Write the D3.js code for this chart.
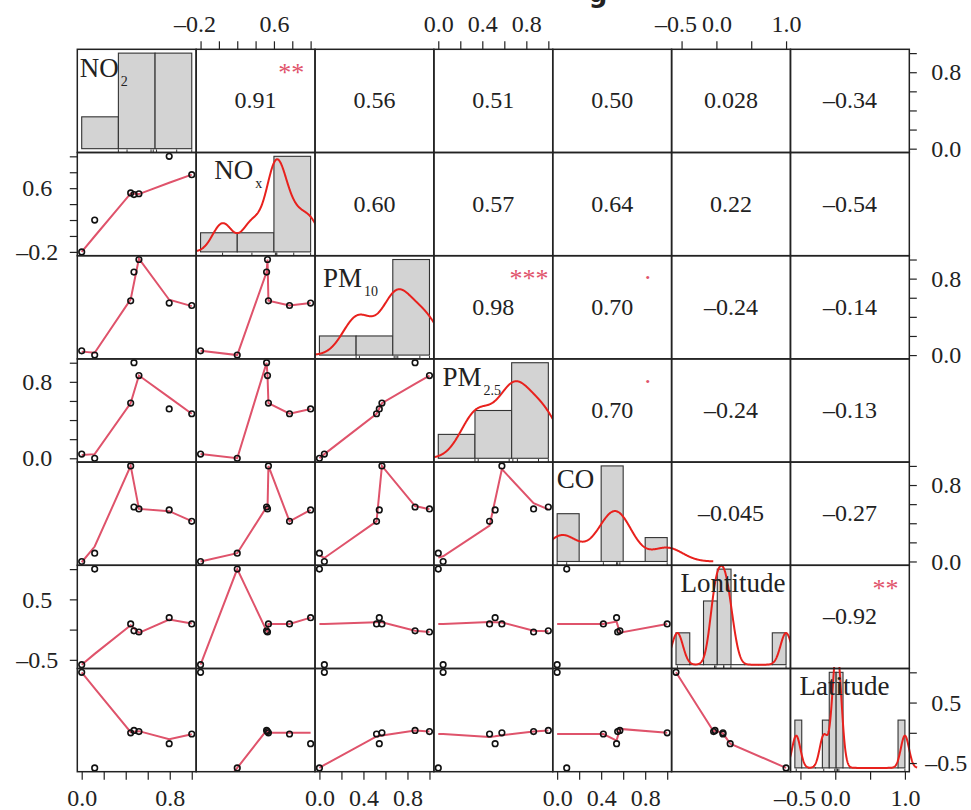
<!DOCTYPE html>
<html>
<head>
<meta charset="utf-8">
<script src="https://cdn.jsdelivr.net/npm/d3@7"></script>
<style>
  body { margin: 0; background: #fff; }
  svg { display: block; font-family: "Liberation Serif", "Times New Roman", serif; }
</style>
</head>
<body>
<div id="chart"></div>
<script>
// seven observations, same order in every series
var NO2       = [0.000, 0.118, 0.445, 0.475, 0.520, 0.795, 1.000];
var NOx       = [-0.20, 0.200, 0.540, 0.520, 0.530, 1.000, 0.770];
var PM10      = [0.045, 0.000, 0.568, 0.869, 1.000, 0.544, 0.519];
var PM25      = [0.044, 0.000, 0.578, 1.000, 0.866, 0.5165, 0.466];
var CO        = [0.000, 0.087, 1.000, 0.570, 0.550, 0.540, 0.420];
var Lontitude = [-0.58, 1.000, 0.094, -0.02, -0.04, 0.198, 0.094];
var Latitude  = [1.000, -0.58, 0.000, 0.040, 0.020, -0.18, -0.02];

var varNames  = ["NO2", "NOx", "PM10", "PM2.5", "CO", "Lontitude", "Latitude"];
var labelMain = ["NO", "NO", "PM", "PM", "CO", "Lontitude", "Latitude"];
var labelSub  = ["2", "x", "10", "2.5", "", "", ""];

// histogram breaks (right-closed bins)
var histBreaks = [
  [-0.5, 0, 0.5, 1],
  [-0.5, 0, 0.5, 1],
  [-0.5, 0, 0.5, 1],
  [-0.5, 0, 0.5, 1],
  [0, 0.2, 0.4, 0.6, 0.8, 1],
  [-0.6, -0.4, -0.2, 0, 0.2, 0.4, 0.6, 0.8, 1],
  [-0.6, -0.5, -0.4, -0.3, -0.2, -0.1, 0, 0.1, 0.2, 0.3, 0.4, 0.5, 0.6, 0.7, 0.8, 0.9, 1]
];
var showDensity = [false, true, true, true, true, true, true];

// axis ticks and the labels that are printed
var axisTicks = [
  [0, 0.2, 0.4, 0.6, 0.8, 1],
  [-0.2, 0, 0.2, 0.4, 0.6, 0.8, 1],
  [0, 0.2, 0.4, 0.6, 0.8, 1],
  [0, 0.2, 0.4, 0.6, 0.8, 1],
  [0, 0.2, 0.4, 0.6, 0.8, 1],
  [-0.5, 0, 0.5, 1],
  [-0.5, 0, 0.5, 1]
];
var xTickLabels = [[0, 0.8], [-0.2, 0.6], [0, 0.4, 0.8], [0, 0.4, 0.8], [0, 0.4, 0.8], [-0.5, 0, 1], [-0.5, 0, 1]];
var yTickLabels = [[0, 0.8], [-0.2, 0.6], [0, 0.8], [0, 0.8], [0, 0.8], [-0.5, 0.5], [-0.5, 0.5]];

// correlations above the diagonal, row by row
var corValues = [
  [0.91, 0.56, 0.51, 0.50, 0.028, -0.34],
  [0.60, 0.57, 0.64, 0.22, -0.54],
  [0.98, 0.70, -0.24, -0.14],
  [0.70, -0.24, -0.13],
  [-0.045, -0.27],
  [-0.92]
];
var corStars = [
  ["**", "", "", "", "", ""],
  ["", "", "", "", ""],
  ["***", ".", "", ""],
  [".", "", ""],
  ["", ""],
  ["**"]
];

var series = [NO2, NOx, PM10, PM25, CO, Lontitude, Latitude];
var nv = series.length;

var width = 971, height = 810;
var plotLeft = 77.3, plotTop = 49.3, cellW = 118.86, cellH = 103.2;

// label nudges inside the diagonal cells
var labelDx = [2.5, 18, 8, 8.5, 4, 9, 9];
var labelDy = [27.5, 26, 31.5, 27, 26, 26.2, 26.3];

var svg = d3.select("#chart").append("svg")
    .attr("width", width)
    .attr("height", height);

svg.append("rect").attr("width", width).attr("height", height).attr("fill", "#fff");

var defs = svg.append("defs");

function padded(ext) {
  var d = ext[1] - ext[0];
  return [ext[0] - 0.04 * d, ext[1] + 0.04 * d];
}

function fmtTick(v) {
  return v.toFixed(1).replace("-", "\u2013");
}

function fmtCor(r) {
  var s = Math.abs(r) < 0.1 ? r.toPrecision(2) : r.toFixed(2);
  return s.replace("-", "\u2013");
}

var xScales = series.map(function(v, j) {
  return d3.scaleLinear().domain(padded(d3.extent(v)))
      .range([plotLeft + j * cellW, plotLeft + (j + 1) * cellW]);
});
var yScales = series.map(function(v, i) {
  return d3.scaleLinear().domain(padded(d3.extent(v)))
      .range([plotTop + (i + 1) * cellH, plotTop + i * cellH]);
});

// port of R's clowess
function lowess(xIn, yIn, f, nsteps) {
  var n = xIn.length;
  var order = d3.range(n).sort(function(a, b) { return xIn[a] - xIn[b]; });
  var x = order.map(function(k) { return xIn[k]; });
  var y = order.map(function(k) { return yIn[k]; });
  var ys = new Array(n).fill(0), rw = new Array(n).fill(1), res = new Array(n).fill(0);
  var range = x[n - 1] - x[0];
  var delta = 0.01 * range;
  var ns = Math.max(2, Math.min(n, Math.floor(f * n + 1e-7)));

  function lowest(xs, nleft, nright, userw) {
    var h = Math.max(xs - x[nleft], x[nright] - xs);
    var h9 = 0.999 * h, h1 = 0.001 * h;
    var w = new Array(n).fill(0);
    var a = 0, j = nleft;
    while (j < n) {
      var r = Math.abs(x[j] - xs);
      if (r <= h9) {
        w[j] = r <= h1 ? 1 : Math.pow(1 - Math.pow(r / h, 3), 3);
        if (userw) w[j] *= rw[j];
        a += w[j];
      } else if (x[j] > xs) break;
      j++;
    }
    var nrt = j - 1;
    if (a <= 0) return null;
    for (j = nleft; j <= nrt; j++) w[j] /= a;
    if (h > 0) {
      a = 0;
      for (j = nleft; j <= nrt; j++) a += w[j] * x[j];
      var b = xs - a, c = 0;
      for (j = nleft; j <= nrt; j++) c += w[j] * (x[j] - a) * (x[j] - a);
      if (Math.sqrt(c) > 0.001 * range) {
        b /= c;
        for (j = nleft; j <= nrt; j++) w[j] *= (b * (x[j] - a) + 1);
      }
    }
    var s = 0;
    for (j = nleft; j <= nrt; j++) s += w[j] * y[j];
    return s;
  }

  for (var iter = 1; iter <= nsteps + 1; iter++) {
    var nleft = 0, nright = ns - 1, last = -1, i = 0;
    for (;;) {
      if (nright < n - 1) {
        var d1 = x[i] - x[nleft], d2 = x[nright + 1] - x[i];
        if (d1 > d2) { nleft++; nright++; continue; }
      }
      var fit = lowest(x[i], nleft, nright, iter > 1);
      ys[i] = fit === null ? y[i] : fit;
      if (last < i - 1) {
        var denom = x[i] - x[last];
        for (var j = last + 1; j < i; j++) {
          var alpha = (x[j] - x[last]) / denom;
          ys[j] = alpha * ys[i] + (1 - alpha) * ys[last];
        }
      }
      last = i;
      var cut = x[last] + delta;
      for (i = last + 1; i < n; i++) {
        if (x[i] > cut) break;
        if (x[i] === x[last]) { ys[i] = ys[last]; last = i; }
      }
      i = Math.max(last + 1, i - 1);
      if (last >= n - 1) break;
    }
    for (i = 0; i < n; i++) res[i] = y[i] - ys[i];
    if (iter > nsteps) break;
    var sc = d3.sum(res, Math.abs) / n;
    var cmad = 6 * d3.median(res.map(Math.abs));
    if (cmad < 1e-7 * sc) break;
    var c9 = 0.999 * cmad, c1 = 0.001 * cmad;
    for (i = 0; i < n; i++) {
      var r = Math.abs(res[i]);
      rw[i] = r <= c1 ? 1 : (r <= c9 ? Math.pow(1 - Math.pow(r / cmad, 2), 2) : 0);
    }
  }
  return x.map(function(v, k) { return [v, ys[k]]; });
}

function bwNrd0(v) {
  var s = d3.deviation(v);
  var sorted = v.slice().sort(d3.ascending);
  var iqr = d3.quantile(sorted, 0.75) - d3.quantile(sorted, 0.25);
  var lo = Math.min(s, iqr / 1.34);
  if (!lo) lo = s || 1;
  return 0.9 * lo * Math.pow(v.length, -0.2);
}

function kde(v) {
  var bw = bwNrd0(v), n = v.length;
  var lo = d3.min(v) - 3 * bw, hi = d3.max(v) + 3 * bw;
  return d3.range(512).map(function(k) {
    var x = lo + (hi - lo) * k / 511;
    var s = d3.sum(v, function(xi) {
      var z = (x - xi) / bw;
      return Math.exp(-0.5 * z * z);
    });
    return [x, s / (n * bw * Math.sqrt(2 * Math.PI))];
  });
}

function binCounts(v, br) {
  var counts = br.slice(1).map(function() { return 0; });
  v.forEach(function(x) {
    for (var k = 0; k < counts.length; k++) {
      var lowOk = k === 0 ? x >= br[0] - 1e-7 : x > br[k] + 1e-7;
      if (lowOk && x <= br[k + 1] + 1e-7) { counts[k]++; break; }
    }
  });
  return counts;
}

var panels = svg.append("g").attr("class", "panels");

function drawDiag(i) {
  var v = series[i], br = histBreaks[i], n = v.length;
  var x0 = plotLeft + i * cellW, y0 = plotTop + i * cellH;
  var g = panels.append("g").attr("class", "diag");

  var bins = binCounts(v, br).map(function(c, k) {
    return { x0: br[k], x1: br[k + 1], dens: c / (n * (br[k + 1] - br[k])) };
  });
  var maxD = d3.max(bins, function(d) { return d.dens; });
  var hx = d3.scaleLinear().domain(padded([br[0], br[br.length - 1]])).range([x0, x0 + cellW]);
  var hy = d3.scaleLinear().domain(padded([0, maxD])).range([y0 + cellH, y0]);

  g.selectAll("rect.bar")
    .data(bins)
    .enter().append("rect")
      .attr("class", "bar")
      .attr("x", function(d) { return hx(d.x0); })
      .attr("width", function(d) { return hx(d.x1) - hx(d.x0); })
      .attr("y", function(d) { return hy(d.dens); })
      .attr("height", function(d) { return Math.max(0.01, hy(0) - hy(d.dens)); })
      .attr("fill", "#d3d3d3")
      .attr("stroke", "#333")
      .attr("stroke-width", 1.1);

  if (showDensity[i]) {
    var openRight = varNames[i] === "CO" || varNames[i] === "Latitude";
    defs.append("clipPath").attr("id", "dclip" + i)
      .append("rect")
        .attr("x", x0)
        .attr("y", y0 - 1.5)
        .attr("width", openRight ? width - x0 : cellW)
        .attr("height", cellH + 1.5);
    g.append("path")
      .datum(kde(v))
      .attr("clip-path", "url(#dclip" + i + ")")
      .attr("fill", "none")
      .attr("stroke", "#e8211d")
      .attr("stroke-width", 2)
      .attr("d", d3.line().x(function(d) { return hx(d[0]); }).y(function(d) { return hy(d[1]); }));
  }

  g.selectAll("line.rug")
    .data(v)
    .enter().append("line")
      .attr("class", "rug")
      .attr("x1", function(d) { return hx(d); })
      .attr("x2", function(d) { return hx(d); })
      .attr("y1", y0 + cellH)
      .attr("y2", y0 + cellH - 0.03 * cellH)
      .attr("stroke", "#333")
      .attr("stroke-width", 1);

  var t = g.append("text")
    .attr("x", x0 + labelDx[i])
    .attr("y", y0 + labelDy[i])
    .attr("font-size", 27)
    .attr("fill", "#222")
    .text(labelMain[i]);
  if (labelSub[i]) {
    t.append("tspan")
      .attr("dx", 2)
      .attr("dy", 9)
      .attr("font-size", 14)
      .text(labelSub[i]);
  }
}

function drawScatter(i, j) {
  var xs = xScales[j], ys = yScales[i];
  var x0 = plotLeft + j * cellW, y0 = plotTop + i * cellH;
  var g = panels.append("g").attr("class", "scatter");
  var pts = series[j].map(function(x, k) { return [x, series[i][k]]; });

  var id = "sclip" + i + "_" + j;
  defs.append("clipPath").attr("id", id)
    .append("rect")
      .attr("x", x0).attr("y", y0)
      .attr("width", cellW).attr("height", cellH);

  g.append("path")
    .datum(lowess(series[j], series[i], 2 / 3, 3))
    .attr("clip-path", "url(#" + id + ")")
    .attr("fill", "none")
    .attr("stroke", "#df536b")
    .attr("stroke-width", 2)
    .attr("d", d3.line().x(function(d) { return xs(d[0]); }).y(function(d) { return ys(d[1]); }));

  g.selectAll("circle")
    .data(pts)
    .enter().append("circle")
      .attr("cx", function(d) { return xs(d[0]); })
      .attr("cy", function(d) { return ys(d[1]); })
      .attr("r", 2.8)
      .attr("fill", "none")
      .attr("stroke", "#111")
      .attr("stroke-width", 1.6);
}

function drawCor(i, j) {
  var x0 = plotLeft + j * cellW, y0 = plotTop + i * cellH;
  var g = panels.append("g").attr("class", "cor");
  g.append("text")
    .attr("x", x0 + cellW / 2)
    .attr("y", y0 + cellH / 2 + 7.5)
    .attr("text-anchor", "middle")
    .attr("font-size", 24)
    .attr("fill", "#222")
    .text(fmtCor(corValues[i][j - i - 1]));
  var star = corStars[i][j - i - 1];
  if (star) {
    g.append("text")
      .attr("x", x0 + 0.8 * cellW)
      .attr("y", y0 + 0.2 * cellH + (star === "." ? 3 : 11))
      .attr("text-anchor", "middle")
      .attr("font-size", 26)
      .attr("fill", "#df536b")
      .text(star);
  }
}

for (var i = 0; i < nv; i++) {
  for (var j = 0; j < nv; j++) {
    if (i === j) drawDiag(i);
    else if (i > j) drawScatter(i, j);
    else drawCor(i, j);
  }
}

// panel frames
var cells = [];
for (var r = 0; r < nv; r++) for (var c = 0; c < nv; c++) cells.push([r, c]);
svg.append("g").attr("class", "frames")
  .selectAll("rect")
  .data(cells)
  .enter().append("rect")
    .attr("x", function(d) { return plotLeft + d[1] * cellW; })
    .attr("y", function(d) { return plotTop + d[0] * cellH; })
    .attr("width", cellW)
    .attr("height", cellH)
    .attr("fill", "none")
    .attr("stroke", "#222")
    .attr("stroke-width", 1.5);

// axes on alternating sides
function labelFor(list) {
  return function(v) {
    return list.some(function(l) { return Math.abs(l - v) < 1e-9; }) ? fmtTick(v) : "";
  };
}

function styleAxis(sel) {
  sel.select(".domain").remove();
  sel.selectAll(".tick line").attr("stroke", "#222").attr("stroke-width", 1.2);
  sel.selectAll(".tick text")
    .attr("fill", "#222")
    .attr("font-size", 24)
    .attr("font-family", "Liberation Serif, Times New Roman, serif");
}

var axes = svg.append("g").attr("class", "axes");
for (var k = 0; k < nv; k++) {
  var xAxis = (k % 2 === 1 ? d3.axisTop(xScales[k]) : d3.axisBottom(xScales[k]))
      .tickValues(axisTicks[k])
      .tickSize(8)
      .tickSizeOuter(0)
      .tickPadding(9)
      .tickFormat(labelFor(xTickLabels[k]));
  var gx = axes.append("g")
      .attr("transform", "translate(0," + (k % 2 === 1 ? plotTop : plotTop + nv * cellH) + ")")
      .call(xAxis);
  styleAxis(gx);
  // negative labels sit a little left of their tick
  gx.selectAll(".tick text")
    .attr("x", function(d) { return d < 0 ? -6 : 0; });

  var yAxis = (k % 2 === 1 ? d3.axisLeft(yScales[k]) : d3.axisRight(yScales[k]))
      .tickValues(axisTicks[k])
      .tickSize(7.5)
      .tickSizeOuter(0)
      .tickFormat(labelFor(yTickLabels[k]));
  var gy = axes.append("g")
      .attr("transform", "translate(" + (k % 2 === 1 ? plotLeft : plotLeft + nv * cellW) + ",0)")
      .call(yAxis);
  styleAxis(gy);
  gy.selectAll(".tick text")
    .attr("text-anchor", "middle")
    .attr("x", k % 2 === 1 ? -40 : 37);
}

// the title is cut off by the top edge; only a descender shows
svg.append("text")
  .attr("x", 598)
  .attr("y", 2)
  .attr("text-anchor", "middle")
  .attr("font-family", "DejaVu Sans, sans-serif")
  .attr("font-weight", "bold")
  .attr("font-size", 26)
  .attr("fill", "#222")
  .text("g");
</script>
</body>
</html>
